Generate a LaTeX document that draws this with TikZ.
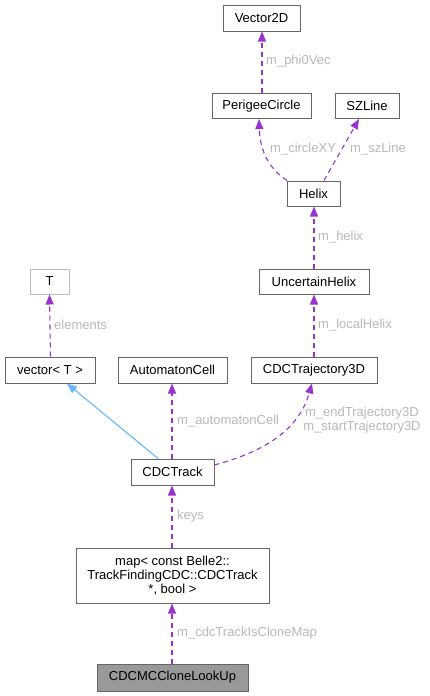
\documentclass[tikz,border=0pt]{standalone}
\usepackage{fontspec}
\setmainfont{Liberation Sans}
\usetikzlibrary{arrows.meta}
\definecolor{edgepurple}{HTML}{9A32CD}
\definecolor{labelgray}{HTML}{B8B8B8}
\definecolor{boxgray}{HTML}{666666}
\definecolor{lightbox}{HTML}{BFBFBF}
\definecolor{inhblue}{HTML}{63B8FF}
\definecolor{curfill}{HTML}{999999}
\tikzset{
  cls/.style={draw=boxgray, line width=1pt, rectangle, inner sep=0pt, minimum height=25pt, font=\fontsize{13}{14.3}\selectfont, align=center, fill=white},
  lbl/.style={text=labelgray, inner sep=0pt, font=\fontsize{13}{14}\selectfont},
  uses/.style={draw=edgepurple, line width=1.1pt, dash pattern=on 5pt off 4pt, -{Triangle[length=10pt,width=8pt,fill=edgepurple]}},
  inh/.style={draw=inhblue, line width=1.1pt, -{Triangle[length=10pt,width=8pt,fill=inhblue]}}
}
\begin{document}
\begin{tikzpicture}[x=1pt,y=-1pt]
\useasboundingbox (0,0) rectangle (429,696);
\node[cls, minimum width=77pt, minimum height=26pt] (v2d) at (261.5,18) {Vector2D};
\node[cls, minimum width=99pt] (pc) at (261.5,106) {PerigeeCircle};
\node[cls, minimum width=64pt] (sz) at (367,106) {SZLine};
\node[cls, minimum width=53pt] (hx) at (313.5,193.5) {Helix};
\node[cls, minimum width=110pt] (uh) at (314,281.5) {UncertainHelix};
\node[cls, draw=lightbox, minimum width=39pt] (t) at (49.5,281.5) {T};
\node[cls, minimum width=90pt, minimum height=26pt] (vec) at (50,370) {vector< T >};
\node[cls, minimum width=109pt, minimum height=26pt] (ac) at (172.5,370) {AutomatonCell};
\node[cls, minimum width=126pt, minimum height=26pt] (tr) at (314,370) {CDCTrajectory3D};
\node[cls, minimum width=83pt, minimum height=26pt] (ct) at (172.5,472) {CDCTrack};
\node[cls, minimum width=193pt, minimum height=55pt] (mp) at (172.5,575.5) {map< const Belle2::\\TrackFindingCDC::CDCTrack\\*, bool >};
\node[cls, fill=curfill, minimum width=151pt, minimum height=27pt] (cl) at (172.5,677.5) {CDCMCCloneLookUp};

\draw[uses] ([xshift=0.5pt]pc.north) -- ([xshift=0.5pt]v2d.south);
\draw[uses] ([xshift=-26.5pt]hx.north) .. controls (268,168) and (260,150) .. ([xshift=-2.5pt]pc.south);
\draw[uses] ([xshift=10.5pt]hx.north) -- ([xshift=-8pt]sz.south);
\draw[uses] (uh.north) -- ([xshift=0.5pt]hx.south);
\draw[uses] (tr.north) -- (uh.north |- uh.south);
\draw[uses] ([xshift=0.5pt]vec.north) -- (t.south);
\draw[inh] ([xshift=-14.5pt]ct.north) -- ([xshift=17pt]vec.south);
\draw[uses] ([xshift=-0.5pt]ct.north) -- ([xshift=-0.5pt]ac.south);
\draw[uses] ([yshift=7pt]ct.east) .. controls (262,452) and (298,432) .. ([xshift=-2pt]tr.south);
\draw[uses] ([xshift=-0.5pt]mp.north) -- ([xshift=-0.5pt]ct.south);
\draw[uses] ([xshift=-0.5pt]cl.north) -- ([xshift=-0.5pt]mp.south);

\node[lbl, anchor=west] (l1) at (266,61) {m\_phi0Vec};
\node[lbl, anchor=west] (l2) at (270,149) {m\_circleXY};
\node[lbl, anchor=west] (l3) at (350,149) {m\_szLine};
\node[lbl, anchor=west] (l4) at (318,237) {m\_helix};
\node[lbl, anchor=west] (l5) at (54,325) {elements};
\node[lbl, anchor=west] (l6) at (318,325) {m\_localHelix};
\node[lbl, anchor=west] (l7) at (177,421) {m\_automatonCell};
\node[lbl, align=center] (l8) at (362,420) {m\_endTrajectory3D\\m\_startTrajectory3D};
\node[lbl, anchor=west] (l9) at (177,516) {keys};
\node[lbl, anchor=west] (l10) at (177,633) {m\_cdcTrackIsCloneMap};
\end{tikzpicture}
\end{document}
